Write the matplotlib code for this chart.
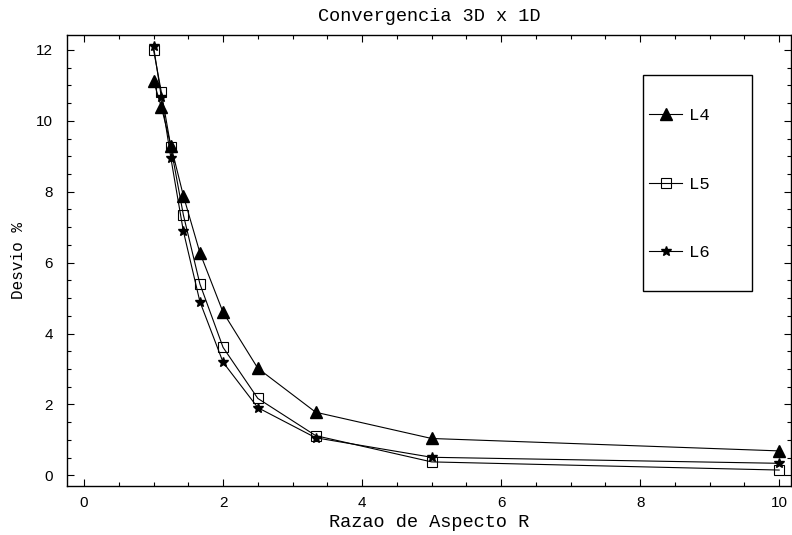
import numpy as np
import matplotlib.pyplot as plt
from matplotlib.patches import Rectangle
from matplotlib.ticker import MultipleLocator

# aspect ratios
R = [1.0, 1.111, 1.25, 1.4286, 1.6667, 2.0, 2.5, 3.333, 5.0, 10.0]

# deviation %
L4 = [11.12, 10.40, 9.30, 7.89, 6.28, 4.60, 3.02, 1.78, 1.04, 0.69]
L5 = [12.00, 10.82, 9.25, 7.35, 5.40, 3.61, 2.17, 1.12, 0.38, 0.15]
L6 = [12.10, 10.68, 8.94, 6.89, 4.90, 3.19, 1.91, 1.06, 0.51, 0.34]

mono = 'Liberation Mono'
sans = 'Liberation Sans'

W, H = 792, 535
fig = plt.figure(figsize=(W / 100, H / 100), dpi=100)
ax = fig.add_axes([67 / W, 1 - 486 / H, (791 - 67) / W, (486 - 35) / H])

ax.plot(R, L4, color='black', lw=0.8, marker='^', ms=8.6, mfc='black', mec='black', label='L4')
ax.plot(R, L5, color='black', lw=0.8, marker='s', ms=7.8, mfc='none', mec='black', mew=0.8, label='L5')
ax.plot(R, L6, color='black', lw=0.8, marker='*', ms=7.5, mfc='black', mec='black', label='L6')

ax.set_xlim(-0.245, 10.17)
ax.set_ylim(-0.30, 12.42)
ax.xaxis.set_major_locator(MultipleLocator(2))
ax.xaxis.set_minor_locator(MultipleLocator(0.5))
ax.yaxis.set_major_locator(MultipleLocator(2))
ax.yaxis.set_minor_locator(MultipleLocator(0.5))
ax.tick_params(which='both', direction='in', top=True, right=True, labeltop=False, labelright=False,
               width=0.8, colors='black')
ax.tick_params(which='major', length=5, labelsize=11)
ax.tick_params(axis='x', which='major', pad=7)
ax.tick_params(axis='y', which='major', pad=10)
ax.tick_params(which='minor', length=3)
for lab in ax.get_xticklabels() + ax.get_yticklabels():
    lab.set_family(sans)
for s in ax.spines.values():
    s.set_linewidth(1.0)

ax.set_title('Convergencia 3D x 1D', family=mono, fontsize=13.4, pad=10)
ax.set_xlabel('Razao de Aspecto R', family=mono, fontsize=13.4, labelpad=3)
ax.set_ylabel('Desvio %', family=mono, fontsize=11.5, labelpad=7)

# legend box
fig.patches.append(Rectangle((643 / W, 1 - 291 / H), (752 - 643) / W, (291 - 75) / H,
                             transform=fig.transFigure, fill=False, ec='black', lw=1.0))
ax.legend(loc='upper left', bbox_to_anchor=(649 / W, 1 - 108 / H), bbox_transform=fig.transFigure,
          frameon=False, numpoints=1, borderpad=0, borderaxespad=0, handlelength=1.92,
          handletextpad=0.4, labelspacing=3.11, prop={'family': mono, 'size': 12.4})

fig.savefig('out.png', dpi=100)
